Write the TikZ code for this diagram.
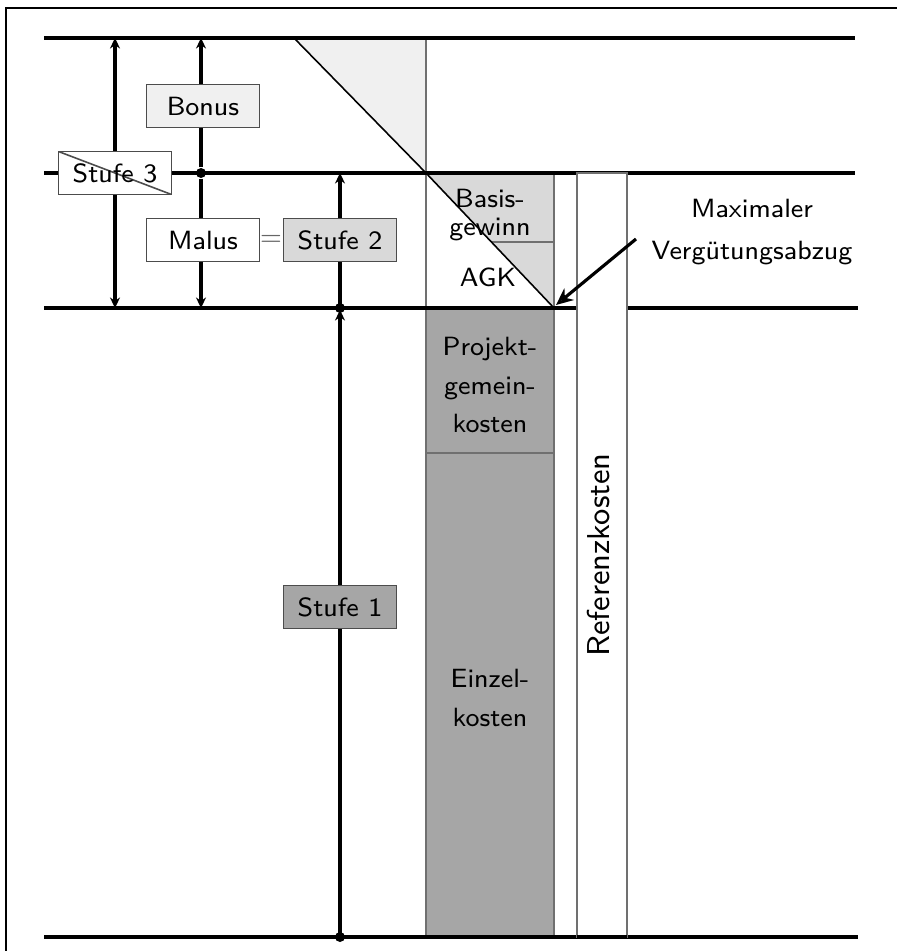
\documentclass[tikz,border=0pt]{standalone}
\usetikzlibrary{arrows.meta}
\definecolor{lg}{HTML}{F0F0F0}
\definecolor{mg}{HTML}{D9D9D9}
\definecolor{dg}{HTML}{A6A6A6}
\definecolor{edge}{HTML}{707070}
\begin{document}
\begin{tikzpicture}[x=0.01cm,y=-0.01cm,
  txt/.style={font=\sffamily\fontsize{7.5}{9}\selectfont, align=center, inner sep=0pt},
  box/.style={txt, draw=black!70, line width=0.5pt, minimum width=1.13cm, minimum height=0.43cm},
  hline/.style={line width=0.95pt},
  edgeline/.style={draw=edge, line width=0.5pt},
  arr/.style={line width=0.9pt, -{Stealth[length=1.05mm,width=1mm]}},
  arrs/.style={line width=0.9pt, {Stealth[length=1.05mm,width=1mm]}-{Stealth[length=1.05mm,width=1mm]}},
  dot/.style={circle, fill=black, inner sep=0pt, minimum size=0.1cm}]
\useasboundingbox (0,0) rectangle (897,951);
% outer frame (only top and left visible)
\draw[line width=0.7pt] (6,951) -- (6,8) -- (897,8);

% column shapes
\fill[lg] (294,38) -- (426,38) -- (426,173) -- cycle;
\draw[line width=0.45pt] (294,38) -- (426,173);
\draw[edgeline] (426,38) -- (426,173);
\fill[mg] (426,173) -- (554,173) -- (554,308) -- cycle;
\draw[edgeline] (426,173) rectangle (554,308);
\draw[edgeline] (491,242) -- (554,242);
\draw[line width=0.45pt] (426,173) -- (554,308);
\draw[edgeline, fill=dg] (426,308) rectangle (554,453);
\draw[edgeline, fill=dg] (426,453) rectangle (554,937);

% horizontal lines
\coordinate (l1a) at (44,38);  \coordinate (l1b) at (855,38);
\coordinate (l2a) at (44,173); \coordinate (l2b) at (855,173);
\coordinate (l3a) at (44,308); \coordinate (l3m) at (577,308);
\coordinate (l3n) at (627,308); \coordinate (l3b) at (858,308);
\coordinate (l4a) at (44,937); \coordinate (l4b) at (858,937);
\draw[hline] (l1a) -- (l1b);
\draw[hline] (l2a) -- (l2b);
\draw[hline] (l3a) -- (l3m);
\draw[hline] (l3n) -- (l3b);
\draw[hline] (l4a) -- (l4b);

% reference cost bar
\draw[edgeline, fill=white] (577,173) rectangle (627,937);
\draw[hline] (577,937) -- (627,937);
\node[txt, font=\sffamily\fontsize{9}{10}\selectfont, rotate=90] (ref) at (599,555) {Referenzkosten};

% vertical arrows
\coordinate (s3t) at (115,38); \coordinate (s3b) at (115,308);
\draw[arrs] (s3t) -- (s3b);
\node[dot] (d1) at (201,173) {};
\coordinate (bt) at (201,38); \coordinate (bb) at (201,308);
\draw[arr] (d1) -- (bt);
\draw[arr] (d1) -- (bb);
\node[dot] (d2) at (340,308) {};
\node[dot] (d3) at (340,937) {};
\coordinate (s2t) at (340,173); \coordinate (s1t) at (340,310);
\draw[arr] (d2.center) -- (s2t);
\draw[arr] (d3.center) -- (s1t);

% labels
\node[box, fill=lg] (bonus) at (203,106) {Bonus};
\node[box, fill=white, path picture={\draw[line width=0.45pt] (path picture bounding box.north west) -- (path picture bounding box.south east);}] (stufe3) at (115,173) {Stufe 3};
\node[box, fill=white] (malus) at (203,240) {Malus};
\node[txt, text=black!60] (eq) at (271,240) {=};
\node[box, fill=mg] (stufe2) at (340,240) {Stufe 2};
\node[box, fill=dg] (stufe1) at (340,607) {Stufe 1};

% column texts
\node[txt] (basis) at (490,215) {Basis-\\[-1pt]gewinn};
\node[txt] (agk) at (488,277) {AGK};
\node[txt] (pgk) at (490,385) {Projekt-\\[2pt]gemein-\\[2pt]kosten};
\node[txt] (ek) at (490,698) {Einzel-\\[2pt]kosten};

% annotation
\node[txt] (maxv) at (752,232) {Maximaler\\[3pt]Vergütungsabzug};
\coordinate (astart) at (636,239);
\coordinate (atip) at (556,305);
\draw[line width=0.9pt, -{Stealth[length=1.7mm,width=1.5mm,open]}] (astart) -- (atip);
\end{tikzpicture}
\end{document}
